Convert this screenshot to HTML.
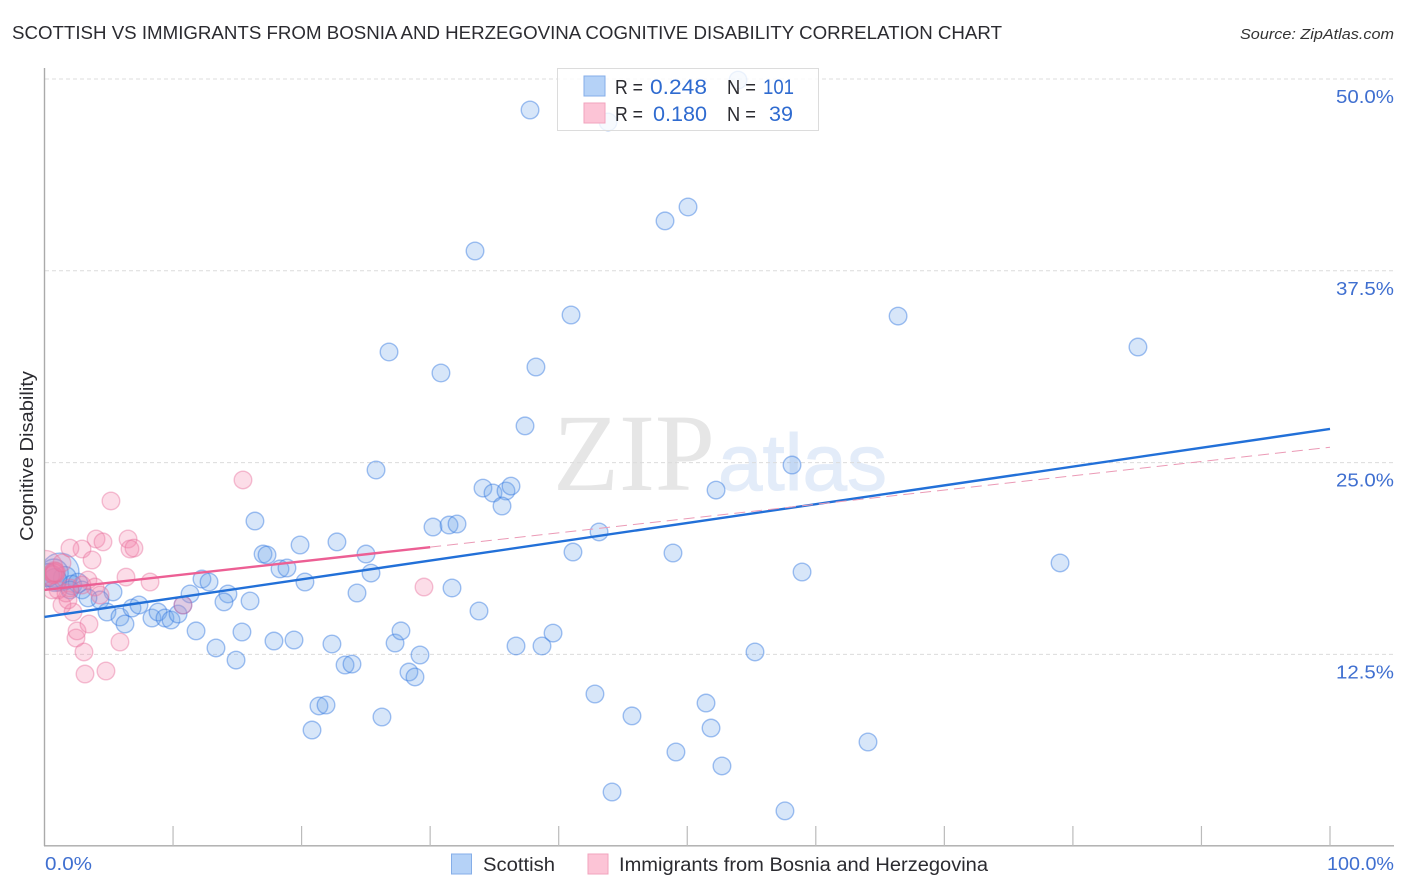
<!DOCTYPE html>
<html lang="en">
<head>
<meta charset="utf-8">
<title>Scottish vs Immigrants from Bosnia and Herzegovina Cognitive Disability Correlation Chart</title>
<style>
html,body{margin:0;padding:0;background:#fff;width:1406px;height:892px;overflow:hidden}
svg{display:block;font-family:"Liberation Sans",sans-serif}
</style>
</head>
<body>
<svg id="chart" width="1406" height="892" viewBox="0 0 1406 892" xmlns="http://www.w3.org/2000/svg">
  <defs>
    <clipPath id="plotClip"><rect x="45" y="60" width="1349" height="786"/></clipPath>
  </defs>
  <text x="12" y="39" font-size="18.5" fill="#2b2b30" textLength="990" lengthAdjust="spacingAndGlyphs">SCOTTISH VS IMMIGRANTS FROM BOSNIA AND HERZEGOVINA COGNITIVE DISABILITY CORRELATION CHART</text>
  <text x="1394" y="39" font-size="15" font-style="italic" fill="#333" text-anchor="end" textLength="154" lengthAdjust="spacingAndGlyphs">Source: ZipAtlas.com</text>
  <g>
    <text x="553" y="490" font-family="'Liberation Serif',serif" font-size="110" fill="#e6e6e6" textLength="162" lengthAdjust="spacingAndGlyphs">ZIP</text>
    <text x="718" y="490" style="font-family:'Liberation Sans',sans-serif" font-size="80" fill="#e3ecf9" stroke="#e3ecf9" stroke-width="1" textLength="169" lengthAdjust="spacingAndGlyphs">atlas</text>
  </g>
  <g id="grid"></g>
  <g id="axes"></g>
  <g id="bluePoints" clip-path="url(#plotClip)"></g>
  <g id="pinkPoints" clip-path="url(#plotClip)"></g>
  <g id="trends"></g>
  <g id="yLabels"></g>
  <text transform="translate(33,456) rotate(-90)" font-size="18" fill="#2b2b30" text-anchor="middle" textLength="170" lengthAdjust="spacingAndGlyphs">Cognitive Disability</text>
  <text x="45" y="870" font-size="18" fill="#3f6fd0" textLength="47" lengthAdjust="spacingAndGlyphs">0.0%</text>
  <text x="1327" y="870" font-size="18" fill="#3f6fd0" textLength="67" lengthAdjust="spacingAndGlyphs">100.0%</text>

  <g>
    <rect x="557.5" y="68.5" width="261" height="62" fill="#fff" fill-opacity="0.8" stroke="#dcdcdc"/>
    <rect x="584" y="76" width="21" height="20" fill="#b5d2f7" stroke="#85aee8"/>
    <rect x="584" y="103" width="21" height="20" fill="#fcc4d6" stroke="#f2a3bd"/>
    <g font-size="20" fill="#2b2b30">
      <text x="615" y="94" textLength="28" lengthAdjust="spacingAndGlyphs">R =</text>
      <text x="727" y="94" textLength="29" lengthAdjust="spacingAndGlyphs">N =</text>
      <text x="615" y="121" textLength="28" lengthAdjust="spacingAndGlyphs">R =</text>
      <text x="727" y="121" textLength="29" lengthAdjust="spacingAndGlyphs">N =</text>
    </g>
    <g font-size="21" fill="#2f6bd0">
      <text x="650" y="94" textLength="57" lengthAdjust="spacingAndGlyphs">0.248</text>
      <text x="763" y="94" textLength="31" lengthAdjust="spacingAndGlyphs">101</text>
      <text x="653" y="121" textLength="54" lengthAdjust="spacingAndGlyphs">0.180</text>
      <text x="769" y="121" textLength="24" lengthAdjust="spacingAndGlyphs">39</text>
    </g>
  </g>

  <g>
    <rect x="451.5" y="854" width="20" height="20" fill="#b5d2f7" stroke="#85aee8"/>
    <text x="483" y="871" font-size="19" fill="#2b2b30" textLength="72" lengthAdjust="spacingAndGlyphs">Scottish</text>
    <rect x="588" y="854" width="20" height="20" fill="#fcc4d6" stroke="#f2a3bd"/>
    <text x="619" y="871" font-size="19" fill="#2b2b30" textLength="369" lengthAdjust="spacingAndGlyphs">Immigrants from Bosnia and Herzegovina</text>
  </g>
</svg>

<script>
const yTicks = [12.5, 25, 37.5, 50];
const yTickLabels = ["12.5%", "25.0%", "37.5%", "50.0%"];
const xTicks = [0, 10, 20, 30, 40, 50, 60, 70, 80, 90, 100];

const scottishX = [1.21,0.75,1.59,2.14,2.61,2.92,1.98,0.82,0.27,53.95,37.77,43.84,50.06,48.27,33.49,40.96,66.40,85.06,26.80,30.84,38.23,37.38,25.79,58.15,34.11,34.89,35.90,36.29,52.24,35.59,16.37,30.22,31.47,32.09,43.14,19.88,22.75,17.00,17.31,25.01,41.11,48.89,79.00,58.93,18.32,18.86,25.40,20.26,12.25,12.80,31.70,24.31,11.32,14.27,13.96,15.99,33.80,5.33,4.32,3.38,4.86,5.87,6.26,6.81,7.35,8.36,8.83,9.37,9.84,10.39,10.77,11.79,15.36,13.34,14.90,17.85,19.41,22.36,27.27,27.73,29.21,23.38,23.92,28.35,28.82,36.68,38.70,39.56,55.27,42.82,45.70,51.46,51.85,21.35,21.90,26.25,20.81,49.12,52.70,64.06,44.15,57.60];
const scottishY = [17.87,17.80,17.48,17.02,17.15,16.70,16.70,17.35,17.67,49.93,47.98,47.20,41.66,40.75,38.79,34.62,34.55,32.53,32.21,30.84,31.23,27.39,24.52,24.84,23.34,23.02,23.15,23.47,23.21,22.17,21.19,20.80,20.93,21.00,20.48,19.63,19.83,19.04,18.98,19.04,19.17,19.11,18.46,17.87,18.07,18.13,17.80,17.22,17.41,17.22,16.83,16.50,16.44,16.44,15.92,15.98,15.33,16.57,16.05,16.18,15.26,14.94,14.48,15.52,15.72,14.87,15.26,14.87,14.74,15.13,15.72,14.03,13.96,12.92,12.13,13.37,13.44,13.18,13.24,14.03,12.46,11.81,11.87,11.35,11.03,13.05,13.05,13.89,12.66,9.92,8.49,9.33,7.70,9.14,9.20,8.42,7.57,6.14,5.23,6.79,3.53,2.30];
const scottishWeight = [2.15,1.6,1.3,1.1,1.1,1,1,1.3,1.3];

const bosniaX = [0.04,0.70,0.80,0.75,0.65,0.85,15.44,5.17,4.01,4.55,6.50,6.65,6.96,2.92,1.98,3.70,6.34,8.21,10.77,29.52,1.36,5.87,3.07,3.15,4.78,2.45,2.53,3.46,2.22,1.36,1.83,1.67,1.05,0.58,3.38,3.93,4.32,1.98,2.92];
const bosniaY = [18.13,17.80,17.75,17.90,17.70,17.85,23.87,22.50,20.02,19.83,20.02,19.37,19.43,19.37,19.43,18.65,17.54,17.22,15.72,16.89,18.46,13.31,12.66,11.22,11.42,13.57,14.03,14.48,15.26,15.72,16.05,16.50,16.70,16.70,17.35,16.89,16.37,16.83,17.02];
const bosniaWeight = [2,1.1,1.1,1.1,1,1.1];

const scottishTrendX = [0, 100];
const scottishTrendY = [14.94, 27.19];
const bosniaSolidX = [0, 30];
const bosniaTrendY0 = 16.7;
const bosniaTrendY100 = 26.0;

const svgNS = "http://www.w3.org/2000/svg";
const xScale = function (v) { return 44.5 + v * 12.855; };
const yScale = function (v) { return 79 + (50 - v) * 15.344; };
const bosniaTrendAt = function (v) { return bosniaTrendY0 + (bosniaTrendY100 - bosniaTrendY0) * v / 100; };

function make(parent, tag, attrs) {
  const el = document.createElementNS(svgNS, tag);
  Object.keys(attrs).forEach(function (k) { el.setAttribute(k, attrs[k]); });
  parent.appendChild(el);
  return el;
}

const grid = document.getElementById("grid");
yTicks.forEach(function (t) {
  const line = make(grid, "line", { x1: 45, x2: 1394, y1: yScale(t), y2: yScale(t), stroke: "#dcdcdc", "stroke-width": 1, "stroke-dasharray": "4 3" });
  
  
});

const axes = document.getElementById("axes");
const yAxis = make(axes, "line", { x1: 44.5, x2: 44.5, y1: 68, y2: 846, stroke: "#aaaaaa", "stroke-width": 1.4 });


const xAxis = make(axes, "line", { x1: 44, x2: 1394, y1: 845.8, y2: 845.8, stroke: "#aaaaaa", "stroke-width": 1.4 });


xTicks.slice(1).forEach(function (t) {
  const tick = make(axes, "line", { x1: xScale(t), x2: xScale(t), y1: 826, y2: 846, stroke: "#bbbbbb", "stroke-width": 1.2 });
  
  
});

const yLabels = document.getElementById("yLabels");
yTicks.forEach(function (t, i) {
  const label = make(yLabels, "text", { x: 1336, y: yScale(t) + 24, "font-size": 18, fill: "#3f6fd0", textLength: 58, lengthAdjust: "spacingAndGlyphs" });
  label.textContent = yTickLabels[i];
  
  
});

const blueGroup = document.getElementById("bluePoints");
scottishX.forEach(function (x, i) {
  const dot = make(blueGroup, "circle", { cx: xScale(x), cy: yScale(scottishY[i]), r: 8.8 * (scottishWeight[i] || 1), fill: "rgba(110,165,235,0.28)", stroke: "rgba(50,120,225,0.45)", "stroke-width": 1.4 });
  
  
});

const pinkGroup = document.getElementById("pinkPoints");
bosniaX.forEach(function (x, i) {
  const dot = make(pinkGroup, "circle", { cx: xScale(x), cy: yScale(bosniaY[i]), r: 8.8 * (bosniaWeight[i] || 1), fill: "rgba(244,130,170,0.27)", stroke: "rgba(232,110,155,0.42)", "stroke-width": 1.4 });
  
  
});

const trends = document.getElementById("trends");
const blueTrend = make(trends, "line", { x1: xScale(scottishTrendX[0]), y1: yScale(scottishTrendY[0]), x2: xScale(scottishTrendX[1]), y2: yScale(scottishTrendY[1]), stroke: "#2270d8", "stroke-width": 2.4 });


const pinkDash = make(trends, "line", { x1: xScale(bosniaSolidX[1]), y1: yScale(bosniaTrendAt(bosniaSolidX[1])), x2: xScale(100), y2: yScale(bosniaTrendY100), stroke: "#eb9ab6", "stroke-width": 1, "stroke-dasharray": "11 6" });


const pinkTrend = make(trends, "line", { x1: xScale(bosniaSolidX[0]), y1: yScale(bosniaTrendAt(bosniaSolidX[0])), x2: xScale(bosniaSolidX[1]), y2: yScale(bosniaTrendAt(bosniaSolidX[1])), stroke: "#ec5f94", "stroke-width": 2.4 });


</script>
</body>
</html>
